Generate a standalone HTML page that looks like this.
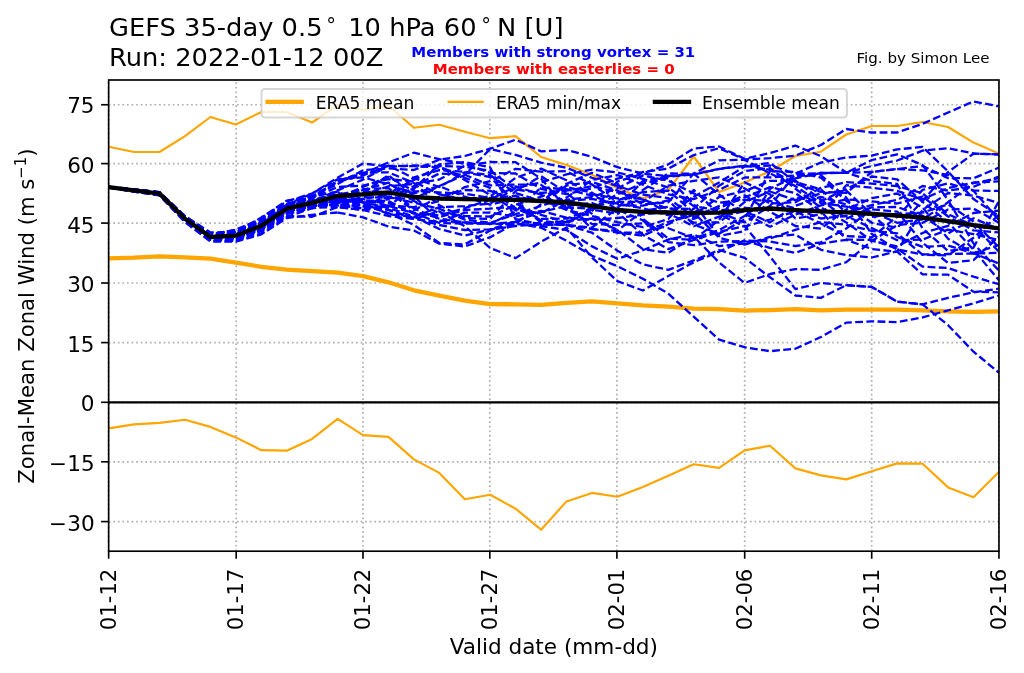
<!DOCTYPE html>
<html lang="en"><head><meta charset="utf-8">
<title>GEFS 35-day 0.5° 10 hPa 60°N [U]</title>
<style>
html,body{margin:0;padding:0;background:#fff;}
body{width:1024px;height:673px;overflow:hidden;}
svg{display:block;font-family:"DejaVu Sans","Liberation Sans",sans-serif;}
text{fill:#000;}
.grid line{stroke:#b0b0b0;stroke-width:1.73;stroke-dasharray:1.73 2.85;fill:none;}
.tick line{stroke:#000;stroke-width:1.65;}
.mem{fill:none;stroke:#0000ff;stroke-width:2.3;stroke-dasharray:7.81 3.38;stroke-linejoin:round;}
.emean{fill:none;stroke:#000;stroke-width:4.3;stroke-linejoin:round;stroke-linecap:butt;}
.era{fill:none;stroke:#ffa500;stroke-width:2.16;stroke-linejoin:round;}
.eram{fill:none;stroke:#ffa500;stroke-width:4.3;stroke-linejoin:round;}
.tl{font-size:21.58px;}
.ttl{font-size:25.75px;}
.lg{font-size:17.12px;}
.an{font-size:15.0px;font-weight:bold;}
.fg{font-size:15.1px;}
</style></head><body>
<svg width="1024" height="673" viewBox="0 0 1024 673">
<rect x="0" y="0" width="1024" height="673" fill="#fff"/>
<clipPath id="ax"><rect x="108.65" y="80.0" width="890.3" height="471.2"/></clipPath>
<g class="grid">
<line x1="108.65" y1="551.2" x2="108.65" y2="80.0"/>
<line x1="236.20" y1="551.2" x2="236.20" y2="80.0"/>
<line x1="363.00" y1="551.2" x2="363.00" y2="80.0"/>
<line x1="489.80" y1="551.2" x2="489.80" y2="80.0"/>
<line x1="616.90" y1="551.2" x2="616.90" y2="80.0"/>
<line x1="744.70" y1="551.2" x2="744.70" y2="80.0"/>
<line x1="871.70" y1="551.2" x2="871.70" y2="80.0"/>
<line x1="998.95" y1="551.2" x2="998.95" y2="80.0"/>
<line x1="108.65" y1="521.60" x2="998.95" y2="521.60"/>
<line x1="108.65" y1="461.80" x2="998.95" y2="461.80"/>
<line x1="108.65" y1="402.30" x2="998.95" y2="402.30"/>
<line x1="108.65" y1="342.60" x2="998.95" y2="342.60"/>
<line x1="108.65" y1="283.00" x2="998.95" y2="283.00"/>
<line x1="108.65" y1="223.10" x2="998.95" y2="223.10"/>
<line x1="108.65" y1="163.60" x2="998.95" y2="163.60"/>
<line x1="108.65" y1="104.75" x2="998.95" y2="104.75"/>
</g>
<g clip-path="url(#ax)">
<polyline class="eram" points="108.7,258.3 134.1,257.6 159.5,256.3 185.0,257.3 210.4,258.6 235.8,262.6 261.3,266.8 286.7,269.6 312.1,271.1 337.6,272.6 363.0,276.1 388.5,282.3 413.9,290.3 439.3,295.6 464.8,300.6 490.2,304.1 515.6,304.3 541.1,304.8 566.5,302.8 592.0,301.3 617.4,303.3 642.8,305.3 668.3,306.6 693.7,308.6 719.1,309.1 744.6,310.6 770.0,310.1 795.4,309.1 820.9,310.3 846.3,309.6 871.8,309.6 897.2,309.6 922.6,310.3 948.1,311.3 973.5,311.8 998.9,311.3"/>
<polyline class="era" points="108.7,146.7 134.1,152.0 159.5,152.0 185.0,136.2 210.4,117.0 235.8,124.5 261.3,112.0 286.7,112.0 312.1,122.5 337.6,105.0 363.0,110.0 388.5,105.8 413.9,127.8 439.3,124.8 464.8,131.7 490.2,138.2 515.6,136.1 541.1,157.0 566.5,165.0 592.0,174.7 617.4,188.0 642.8,198.4 668.3,190.0 693.7,156.5 719.1,192.0 744.6,182.5 770.0,171.2 795.4,156.0 820.9,151.7 846.3,134.5 871.8,126.0 897.2,126.0 922.6,122.0 948.1,127.0 973.5,142.6 998.9,153.6"/>
<polyline class="era" points="108.7,428.4 134.1,424.4 159.5,422.9 185.0,419.7 210.4,426.9 235.8,437.4 261.3,450.2 286.7,450.7 312.1,438.9 337.6,418.9 363.0,435.2 388.5,436.9 413.9,459.4 439.3,472.9 464.8,499.2 490.2,494.7 515.6,508.7 541.1,529.7 566.5,501.4 592.0,492.9 617.4,496.7 642.8,486.9 668.3,475.7 693.7,464.2 719.1,467.9 744.6,450.4 770.0,445.7 795.4,468.4 820.9,475.4 846.3,479.4 871.8,471.2 897.2,463.4 922.6,463.7 948.1,487.4 973.5,497.2 998.9,471.9"/>
<polyline class="mem" points="108.7,187.0 134.1,189.5 159.5,192.4 185.0,216.7 210.4,234.8 235.8,232.4 261.3,217.5 286.7,200.7 312.1,196.1 337.6,184.1"/>
<polyline class="mem" points="337.6,184.1 363.0,170.2 388.5,168.4 413.9,170.0 439.3,159.7 464.8,156.0 490.2,148.7 515.6,139.7 541.1,151.4 566.5,149.8 592.0,156.9 617.4,167.2 642.8,173.5 668.3,164.4 693.7,148.5 719.1,146.5 744.6,158.9 770.0,153.1 795.4,145.6 820.9,156.2 846.3,172.5 871.8,181.0 897.2,184.0 922.6,228.5 948.1,251.0 973.5,247.6 998.9,201.1" stroke-dashoffset="1.28"/>
<polyline class="mem" points="108.7,186.9 134.1,189.4 159.5,192.2 185.0,216.2 210.4,234.8 235.8,229.7 261.3,219.0 286.7,204.5 312.1,198.2 337.6,180.7"/>
<polyline class="mem" points="337.6,180.7 363.0,173.7 388.5,162.4 413.9,152.7 439.3,159.2 464.8,163.7 490.2,173.0 515.6,173.5 541.1,188.9 566.5,194.1 592.0,188.3 617.4,178.7 642.8,172.0 668.3,168.7 693.7,155.1 719.1,148.2 744.6,159.5 770.0,158.2 795.4,155.6 820.9,145.0 846.3,129.0 871.8,132.5 897.2,132.5 922.6,123.8 948.1,112.5 973.5,101.4 998.9,106.4" stroke-dashoffset="9.72"/>
<polyline class="mem" points="108.7,187.2 134.1,190.2 159.5,193.3 185.0,218.3 210.4,236.5 235.8,234.9 261.3,223.2 286.7,206.8 312.1,205.4 337.6,197.9 363.0,186.9 388.5,176.8 413.9,191.1 439.3,192.5 464.8,193.7 490.2,198.0 515.6,195.9 541.1,202.1 566.5,201.1 592.0,198.9 617.4,203.6 642.8,208.3 668.3,215.2 693.7,196.8 719.1,182.4 744.6,166.6 770.0,165.5 795.4,173.7 820.9,162.5 846.3,157.5 871.8,155.6 897.2,149.4 922.6,146.9 948.1,171.5 973.5,199.0 998.9,216.0"/>
<polyline class="mem" points="108.7,187.0 134.1,189.6 159.5,192.5 185.0,216.9 210.4,234.3 235.8,231.4 261.3,221.6 286.7,204.8 312.1,202.5 337.6,199.1 363.0,201.5 388.5,202.8 413.9,212.6 439.3,215.5 464.8,208.1 490.2,199.6 515.6,186.4 541.1,194.7 566.5,207.4 592.0,208.6 617.4,194.3 642.8,183.3 668.3,178.2 693.7,203.9 719.1,236.0 744.6,231.2 770.0,188.8 795.4,176.4 820.9,173.4 846.3,172.7 871.8,166.0 897.2,160.5 922.6,150.6 948.1,148.3 973.5,153.5 998.9,154.5"/>
<polyline class="mem" points="108.7,187.1 134.1,189.9 159.5,192.9 185.0,217.5 210.4,235.8 235.8,232.3 261.3,223.7 286.7,205.5 312.1,198.1 337.6,187.0 363.0,185.6 388.5,179.1 413.9,181.6 439.3,194.3 464.8,199.5 490.2,196.4 515.6,177.9 541.1,168.6 566.5,180.3 592.0,194.2 617.4,198.3 642.8,198.4 668.3,213.3 693.7,226.3 719.1,216.6 744.6,211.3 770.0,222.4 795.4,205.8 820.9,196.8 846.3,204.6 871.8,222.8 897.2,227.8 922.6,201.0 948.1,172.0 973.5,153.7 998.9,154.3"/>
<polyline class="mem" points="108.7,187.5 134.1,191.6 159.5,195.3 185.0,221.8 210.4,240.9 235.8,240.9 261.3,233.5 286.7,217.0 312.1,208.1 337.6,199.7 363.0,194.5 388.5,186.4 413.9,183.9 439.3,179.5 464.8,165.8 490.2,162.0 515.6,162.2 541.1,178.6 566.5,208.7 592.0,224.0 617.4,225.0 642.8,223.4 668.3,228.2 693.7,238.3 719.1,230.1 744.6,215.9 770.0,197.6 795.4,178.3 820.9,173.0 846.3,172.7 871.8,160.0 897.2,154.4 922.6,165.0 948.1,200.0 973.5,243.5 998.9,270.7"/>
<polyline class="mem" points="108.7,187.2 134.1,190.4 159.5,193.6 185.0,218.9 210.4,238.0 235.8,235.6 261.3,225.0 286.7,210.2 312.1,206.0 337.6,202.4 363.0,197.0 388.5,197.9 413.9,198.9 439.3,186.0 464.8,175.0 490.2,148.9 515.6,154.9 541.1,162.7 566.5,167.7 592.0,177.8 617.4,185.9 642.8,194.5 668.3,198.1 693.7,217.1 719.1,206.0 744.6,195.3 770.0,211.7 795.4,226.0 820.9,228.6 846.3,209.5 871.8,198.2 897.2,193.5 922.6,207.5 948.1,238.8 973.5,253.1 998.9,245.1"/>
<polyline class="mem" points="108.7,187.5 134.1,191.7 159.5,195.4 185.0,222.0 210.4,241.6 235.8,241.7 261.3,234.4 286.7,218.1 312.1,214.8 337.6,212.5"/>
<polyline class="mem" points="337.6,212.5 363.0,217.3 388.5,226.6 413.9,230.5 439.3,243.7 464.8,246.5 490.2,237.2 515.6,223.2 541.1,227.7 566.5,240.7 592.0,255.7 617.4,266.2 642.8,278.7 668.3,293.6 693.7,316.7 719.1,339.7 744.6,347.2 770.0,351.2 795.4,348.7 820.9,337.0 846.3,322.7 871.8,321.3 897.2,322.1 922.6,317.4 948.1,310.3 973.5,303.3 998.9,295.5" stroke-dashoffset="10.99"/>
<polyline class="mem" points="108.7,187.4 134.1,191.0 159.5,194.5 185.0,220.4 210.4,239.0 235.8,239.0 261.3,230.2 286.7,214.2 312.1,207.7 337.6,207.0"/>
<polyline class="mem" points="337.6,207.0 363.0,210.0 388.5,216.0 413.9,219.0 439.3,211.4 464.8,226.3 490.2,248.0 515.6,258.1 541.1,241.8 566.5,227.5 592.0,257.5 617.4,281.1 642.8,290.5 668.3,276.0 693.7,262.3 719.1,251.6 744.6,240.4 770.0,241.6 795.4,246.0 820.9,242.3 846.3,228.5 871.8,209.4 897.2,211.6 922.6,242.7 948.1,263.0 973.5,260.1 998.9,236.4" stroke-dashoffset="9.13"/>
<polyline class="mem" points="108.7,187.3 134.1,190.9 159.5,194.3 185.0,220.0 210.4,239.5 235.8,236.1 261.3,228.5 286.7,212.4 312.1,208.4 337.6,203.0 363.0,205.0 388.5,213.0 413.9,225.0 439.3,243.0 464.8,244.4 490.2,230.5 515.6,224.0 541.1,226.0 566.5,230.0 592.0,246.4 617.4,258.8 642.8,250.3 668.3,239.5 693.7,234.5 719.1,246.1 744.6,243.5 770.0,238.5 795.4,229.8 820.9,222.0 846.3,224.8 871.8,230.9 897.2,233.3 922.6,254.8 948.1,255.4 973.5,237.7 998.9,214.7"/>
<polyline class="mem" points="108.7,187.3 134.1,190.7 159.5,194.1 185.0,219.6 210.4,238.2 235.8,238.0 261.3,229.2 286.7,211.9 312.1,205.7 337.6,201.0"/>
<polyline class="mem" points="337.6,201.0 363.0,202.0 388.5,208.0 413.9,216.5 439.3,229.0 464.8,235.6 490.2,229.5 515.6,226.0 541.1,224.4 566.5,225.0 592.0,232.7 617.4,250.7 642.8,264.4 668.3,269.8 693.7,260.4 719.1,250.0 744.6,257.9 770.0,277.3 795.4,295.5 820.9,297.9 846.3,285.2 871.8,286.9 897.2,301.6 922.6,304.4 948.1,325.2 973.5,351.7 998.9,372.7" stroke-dashoffset="0.47"/>
<polyline class="mem" points="108.7,187.3 134.1,190.6 159.5,193.9 185.0,219.3 210.4,237.4 235.8,236.9 261.3,226.8 286.7,211.6 312.1,206.6 337.6,201.4"/>
<polyline class="mem" points="337.6,201.4 363.0,199.0 388.5,206.0 413.9,213.0 439.3,223.0 464.8,223.7 490.2,223.7 515.6,222.0 541.1,223.4 566.5,221.0 592.0,218.5 617.4,229.8 642.8,249.1 668.3,252.9 693.7,236.5 719.1,262.5 744.6,282.9 770.0,274.0 795.4,269.1 820.9,269.8 846.3,262.2 871.8,241.0 897.2,225.1 922.6,222.8 948.1,209.5 973.5,208.6 998.9,222.7" stroke-dashoffset="2.23"/>
<polyline class="mem" points="108.7,187.3 134.1,190.8 159.5,194.1 185.0,219.7 210.4,237.8 235.8,238.2 261.3,229.7 286.7,209.8 312.1,200.8 337.6,192.1"/>
<polyline class="mem" points="337.6,192.1 363.0,203.0 388.5,210.0 413.9,218.0 439.3,225.0 464.8,230.0 490.2,229.4 515.6,221.0 541.1,212.1 566.5,205.8 592.0,203.0 617.4,212.4 642.8,234.8 668.3,249.1 693.7,240.0 719.1,232.0 744.6,226.0 770.0,256.5 795.4,289.1 820.9,282.9 846.3,285.2 871.8,286.9 897.2,301.6 922.6,304.4 948.1,297.8 973.5,292.4 998.9,288.6" stroke-dashoffset="4.91"/>
<polyline class="mem" points="108.7,187.4 134.1,191.1 159.5,194.6 185.0,220.6 210.4,238.9 235.8,239.8 261.3,229.2 286.7,213.4 312.1,207.0 337.6,198.6 363.0,190.0 388.5,182.6 413.9,201.0 439.3,213.3 464.8,216.0 490.2,216.6 515.6,204.8 541.1,196.6 566.5,187.2 592.0,192.6 617.4,209.8 642.8,220.3 668.3,242.1 693.7,245.2 719.1,241.7 744.6,241.0 770.0,247.9 795.4,252.9 820.9,243.5 846.3,239.8 871.8,249.0 897.2,251.7 922.6,274.4 948.1,274.7 973.5,291.7 998.9,292.3"/>
<polyline class="mem" points="108.7,187.3 134.1,190.6 159.5,193.9 185.0,219.4 210.4,237.8 235.8,236.1 261.3,226.8 286.7,209.4 312.1,204.6 337.6,200.9 363.0,205.6 388.5,209.9 413.9,219.0 439.3,222.0 464.8,212.7 490.2,212.7 515.6,216.4 541.1,210.9 566.5,217.7 592.0,219.7 617.4,218.0 642.8,214.6 668.3,211.2 693.7,218.9 719.1,208.1 744.6,197.4 770.0,187.1 795.4,193.1 820.9,211.2 846.3,239.6 871.8,240.0 897.2,248.6 922.6,266.6 948.1,268.0 973.5,276.7 998.9,284.2"/>
<polyline class="mem" points="108.7,187.0 134.1,189.8 159.5,192.7 185.0,217.3 210.4,234.8 235.8,232.6 261.3,222.5 286.7,204.2 312.1,196.7 337.6,191.7 363.0,202.8 388.5,214.2 413.9,217.0 439.3,207.1 464.8,206.1 490.2,203.5 515.6,188.0 541.1,182.4 566.5,174.4 592.0,169.6 617.4,172.4 642.8,178.9 668.3,187.6 693.7,206.1 719.1,210.4 744.6,208.0 770.0,209.1 795.4,197.7 820.9,201.3 846.3,189.0 871.8,176.5 897.2,179.3 922.6,201.8 948.1,222.3 973.5,249.7 998.9,280.2"/>
<polyline class="mem" points="108.7,187.4 134.1,191.2 159.5,194.7 185.0,220.7 210.4,240.5 235.8,239.1 261.3,229.4 286.7,213.4 312.1,205.7 337.6,204.9 363.0,206.3 388.5,196.6 413.9,202.7 439.3,208.7 464.8,219.7 490.2,222.8 515.6,214.2 541.1,206.0 566.5,197.6 592.0,180.0 617.4,175.0 642.8,184.7 668.3,194.4 693.7,199.1 719.1,189.9 744.6,177.5 770.0,177.4 795.4,175.6 820.9,175.1 846.3,197.6 871.8,233.9 897.2,249.5 922.6,254.4 948.1,254.0 973.5,253.6 998.9,252.8"/>
<polyline class="mem" points="108.7,187.2 134.1,190.5 159.5,193.7 185.0,219.0 210.4,236.0 235.8,236.1 261.3,227.2 286.7,209.3 312.1,200.4 337.6,194.7 363.0,191.7 388.5,192.1 413.9,210.3 439.3,196.7 464.8,190.0 490.2,190.8 515.6,201.3 541.1,222.5 566.5,225.0 592.0,229.0 617.4,230.7 642.8,211.0 668.3,206.7 693.7,222.7 719.1,222.4 744.6,202.1 770.0,191.5 795.4,200.1 820.9,193.5 846.3,190.6 871.8,214.5 897.2,237.0 922.6,246.9 948.1,245.5 973.5,253.3 998.9,263.5"/>
<polyline class="mem" points="108.7,187.2 134.1,190.4 159.5,193.6 185.0,218.7 210.4,238.3 235.8,235.8 261.3,224.9 286.7,208.7 312.1,202.8 337.6,199.4"/>
<polyline class="mem" points="337.6,199.4 363.0,200.6 388.5,201.0 413.9,213.7 439.3,217.1 464.8,210.0 490.2,208.6 515.6,206.6 541.1,214.9 566.5,222.4 592.0,211.1 617.4,181.5 642.8,173.7 668.3,176.0 693.7,174.3 719.1,168.8 744.6,165.7 770.0,169.8 795.4,183.8 820.9,191.9 846.3,192.9 871.8,172.0 897.2,169.0 922.6,166.0 948.1,178.1 973.5,178.3 998.9,167.6" stroke-dashoffset="5.03"/>
<polyline class="mem" points="108.7,187.1 134.1,190.0 159.5,193.0 185.0,217.8 210.4,234.5 235.8,234.4 261.3,222.6 286.7,204.7 312.1,201.0 337.6,203.0"/>
<polyline class="mem" points="337.6,203.0 363.0,199.1 388.5,194.6 413.9,188.9 439.3,164.3 464.8,162.0 490.2,167.4 515.6,219.2 541.1,224.5 566.5,225.0 592.0,227.6 617.4,208.2 642.8,181.0 668.3,176.6 693.7,174.5 719.1,169.0 744.6,165.9 770.0,163.0 795.4,182.0 820.9,189.3 846.3,212.8 871.8,205.0 897.2,200.0 922.6,186.0 948.1,190.7 973.5,186.7 998.9,176.5" stroke-dashoffset="4.36"/>
<polyline class="mem" points="108.7,187.1 134.1,190.1 159.5,193.1 185.0,218.0 210.4,235.3 235.8,236.7 261.3,224.7 286.7,205.3 312.1,200.6 337.6,194.2 363.0,193.2 388.5,175.2 413.9,196.0 439.3,220.7 464.8,222.5 490.2,223.8 515.6,224.0 541.1,204.2 566.5,185.5 592.0,181.9 617.4,190.5 642.8,204.3 668.3,202.3 693.7,173.5 719.1,160.3 744.6,159.8 770.0,173.3 795.4,186.1 820.9,203.1 846.3,206.7 871.8,211.8 897.2,222.8 922.6,219.4 948.1,202.2 973.5,183.0 998.9,178.2"/>
<polyline class="mem" points="108.7,187.2 134.1,190.3 159.5,193.4 185.0,218.5 210.4,236.3 235.8,236.2 261.3,226.0 286.7,204.7 312.1,193.5 337.6,179.3 363.0,177.3 388.5,184.3 413.9,193.4 439.3,186.1 464.8,196.7 490.2,204.7 515.6,198.2 541.1,199.8 566.5,210.0 592.0,216.0 617.4,222.2 642.8,227.1 668.3,219.0 693.7,189.9 719.1,214.2 744.6,226.5 770.0,219.5 795.4,211.3 820.9,223.5 846.3,236.1 871.8,237.4 897.2,216.6 922.6,189.9 948.1,183.4 973.5,190.6 998.9,190.9"/>
<polyline class="mem" points="108.7,187.0 134.1,189.5 159.5,192.3 185.0,216.4 210.4,234.0 235.8,230.1 261.3,222.0 286.7,205.0 312.1,196.2 337.6,182.0 363.0,175.3 388.5,165.7 413.9,178.2 439.3,187.0 464.8,172.3 490.2,177.1 515.6,202.6 541.1,220.7 566.5,224.0 592.0,207.3 617.4,200.4 642.8,192.1 668.3,190.6 693.7,212.6 719.1,237.7 744.6,244.6 770.0,236.8 795.4,234.5 820.9,249.8 846.3,255.0 871.8,257.5 897.2,251.4 922.6,209.8 948.1,193.0 973.5,195.6 998.9,203.0"/>
<polyline class="mem" points="108.7,186.9 134.1,189.4 159.5,192.1 185.0,216.2 210.4,232.4 235.8,232.2 261.3,218.2 286.7,201.4 312.1,193.5 337.6,177.7 363.0,163.5 388.5,166.7 413.9,165.5 439.3,166.0 464.8,166.8 490.2,170.8 515.6,189.5 541.1,193.0 566.5,190.7 592.0,186.2 617.4,192.1 642.8,199.6 668.3,208.7 693.7,208.8 719.1,185.7 744.6,171.0 770.0,168.1 795.4,188.8 820.9,207.5 846.3,222.4 871.8,240.8 897.2,246.4 922.6,232.9 948.1,225.8 973.5,213.0 998.9,210.6"/>
<polyline class="mem" points="108.7,187.0 134.1,189.7 159.5,192.6 185.0,217.0 210.4,234.4 235.8,231.1 261.3,220.9 286.7,203.8 312.1,197.6 337.6,181.2 363.0,172.6 388.5,172.3 413.9,183.0 439.3,205.4 464.8,218.0 490.2,219.0 515.6,191.0 541.1,176.2 566.5,192.8 592.0,213.8 617.4,232.5 642.8,235.7 668.3,224.3 693.7,210.6 719.1,212.4 744.6,222.4 770.0,206.0 795.4,174.4 820.9,173.0 846.3,172.7 871.8,172.0 897.2,169.0 922.6,170.4 948.1,175.0 973.5,190.7 998.9,220.0"/>
<polyline class="mem" points="108.7,187.1 134.1,189.9 159.5,192.8 185.0,217.5 210.4,234.9 235.8,233.0 261.3,221.7 286.7,204.7 312.1,200.3 337.6,202.6 363.0,208.8 388.5,193.5 413.9,180.0 439.3,166.5 464.8,177.7 490.2,188.0 515.6,208.4 541.1,218.9 566.5,218.6 592.0,209.7 617.4,213.7 642.8,190.0 668.3,173.5 693.7,173.6 719.1,194.5 744.6,213.6 770.0,226.8 795.4,214.6 820.9,205.4 846.3,199.3 871.8,201.4 897.2,203.5 922.6,196.5 948.1,216.5 973.5,230.4 998.9,232.4"/>
<polyline class="mem" points="108.7,187.3 134.1,191.0 159.5,194.4 185.0,220.3 210.4,239.5 235.8,239.0 261.3,228.9 286.7,210.6 312.1,201.8 337.6,190.4 363.0,179.6 388.5,165.8 413.9,166.2 439.3,167.3 464.8,180.0 490.2,195.0 515.6,210.3 541.1,213.1 566.5,199.7 592.0,197.1 617.4,188.3 642.8,175.5 668.3,180.8 693.7,193.4 719.1,202.8 744.6,199.8 770.0,200.8 795.4,208.5 820.9,218.5 846.3,216.0 871.8,228.1 897.2,240.2 922.6,239.6 948.1,229.6 973.5,234.1 998.9,239.9"/>
<polyline class="mem" points="108.7,187.2 134.1,190.5 159.5,193.8 185.0,219.1 210.4,237.1 235.8,235.4 261.3,226.6 286.7,209.7 312.1,203.4 337.6,195.0 363.0,189.1 388.5,188.1 413.9,208.7 439.3,218.7 464.8,222.5 490.2,223.8 515.6,211.6 541.1,187.4 566.5,189.2 592.0,195.6 617.4,205.2 642.8,205.7 668.3,200.5 693.7,224.6 719.1,233.8 744.6,219.3 770.0,171.1 795.4,172.0 820.9,177.6 846.3,201.0 871.8,216.8 897.2,214.1 922.6,212.6 948.1,204.3 973.5,221.5 998.9,247.4"/>
<polyline class="mem" points="108.7,187.4 134.1,191.3 159.5,194.9 185.0,221.2 210.4,239.6 235.8,241.1 261.3,231.2 286.7,216.1 312.1,216.8 337.6,207.0 363.0,210.0 388.5,206.7 413.9,186.0 439.3,173.5 464.8,174.8 490.2,185.4 515.6,184.5 541.1,184.8 566.5,203.6 592.0,229.0 617.4,232.5 642.8,232.8 668.3,221.9 693.7,215.0 719.1,197.0 744.6,191.2 770.0,180.9 795.4,180.6 820.9,199.6 846.3,218.7 871.8,207.3 897.2,207.0 922.6,215.9 948.1,233.4 973.5,218.3 998.9,229.2"/>
<polyline class="mem" points="108.7,187.1 134.1,190.1 159.5,193.2 185.0,218.1 210.4,236.6 235.8,234.0 261.3,223.2 286.7,207.3 312.1,205.2 337.6,205.3 363.0,208.2 388.5,205.5 413.9,207.2 439.3,201.1 464.8,187.1 490.2,181.2 515.6,168.8 541.1,171.7 566.5,171.2 592.0,184.5 617.4,201.9 642.8,202.0 668.3,185.7 693.7,180.8 719.1,177.4 744.6,188.4 770.0,203.6 795.4,202.2 820.9,187.8 846.3,182.1 871.8,183.6 897.2,186.2 922.6,193.3 948.1,214.2 973.5,225.7 998.9,251.7"/>
<polyline class="mem" points="108.7,187.3 134.1,190.8 159.5,194.2 185.0,219.8 210.4,237.5 235.8,236.9 261.3,228.4 286.7,210.3 312.1,204.0 337.6,200.2 363.0,203.7 388.5,199.2 413.9,177.4 439.3,170.2 464.8,171.8 490.2,175.1 515.6,193.1 541.1,201.0 566.5,183.8 592.0,172.8 617.4,183.3 642.8,218.7 668.3,238.5 693.7,239.8 719.1,219.9 744.6,182.3 770.0,194.3 795.4,218.3 820.9,214.4 846.3,185.2 871.8,187.7 897.2,190.9 922.6,199.3 948.1,188.0 973.5,182.6 998.9,181.3"/>
<polyline class="emean" points="108.7,187.2 134.1,190.4 159.5,193.6 185.0,218.8 210.4,237.0 235.8,235.7 261.3,225.7 286.7,208.7 312.1,202.9 337.6,196.0 363.0,194.3 388.5,192.5 413.9,197.0 439.3,198.5 464.8,199.2 490.2,199.7 515.6,199.9 541.1,201.0 566.5,202.5 592.0,206.0 617.4,210.0 642.8,211.9 668.3,212.5 693.7,212.9 719.1,212.7 744.6,210.1 770.0,208.5 795.4,210.2 820.9,211.4 846.3,212.4 871.8,213.8 897.2,215.5 922.6,217.6 948.1,221.1 973.5,225.2 998.9,228.4"/>
<line x1="108.65" y1="402.30" x2="998.95" y2="402.30" stroke="#000" stroke-width="2.3"/>
</g>
<g class="tick">
<line x1="108.65" y1="551.2" x2="108.65" y2="558.75"/>
<line x1="236.20" y1="551.2" x2="236.20" y2="558.75"/>
<line x1="363.00" y1="551.2" x2="363.00" y2="558.75"/>
<line x1="489.80" y1="551.2" x2="489.80" y2="558.75"/>
<line x1="616.90" y1="551.2" x2="616.90" y2="558.75"/>
<line x1="744.70" y1="551.2" x2="744.70" y2="558.75"/>
<line x1="871.70" y1="551.2" x2="871.70" y2="558.75"/>
<line x1="998.95" y1="551.2" x2="998.95" y2="558.75"/>
<line x1="108.65" y1="521.60" x2="101.10" y2="521.60"/>
<line x1="108.65" y1="461.80" x2="101.10" y2="461.80"/>
<line x1="108.65" y1="402.30" x2="101.10" y2="402.30"/>
<line x1="108.65" y1="342.60" x2="101.10" y2="342.60"/>
<line x1="108.65" y1="283.00" x2="101.10" y2="283.00"/>
<line x1="108.65" y1="223.10" x2="101.10" y2="223.10"/>
<line x1="108.65" y1="163.60" x2="101.10" y2="163.60"/>
<line x1="108.65" y1="104.75" x2="101.10" y2="104.75"/>
</g>
<rect x="108.65" y="80.0" width="890.3" height="471.2" fill="none" stroke="#000" stroke-width="1.65"/>
<text class="tl" text-anchor="end" transform="translate(115.75,568.65) scale(1,0.982) rotate(-90)">01-12</text>
<text class="tl" text-anchor="end" transform="translate(242.94,568.65) scale(1,0.982) rotate(-90)">01-17</text>
<text class="tl" text-anchor="end" transform="translate(370.12,568.65) scale(1,0.982) rotate(-90)">01-22</text>
<text class="tl" text-anchor="end" transform="translate(497.31,568.65) scale(1,0.982) rotate(-90)">01-27</text>
<text class="tl" text-anchor="end" transform="translate(624.49,568.65) scale(1,0.982) rotate(-90)">02-01</text>
<text class="tl" text-anchor="end" transform="translate(751.68,568.65) scale(1,0.982) rotate(-90)">02-06</text>
<text class="tl" text-anchor="end" transform="translate(878.86,568.65) scale(1,0.982) rotate(-90)">02-11</text>
<text class="tl" text-anchor="end" transform="translate(1006.05,568.65) scale(1,0.982) rotate(-90)">02-16</text>
<text class="tl" text-anchor="end" transform="translate(94.60,530.56) scale(1,0.982)">−30</text>
<text class="tl" text-anchor="end" transform="translate(94.60,470.95) scale(1,0.982)">−15</text>
<text class="tl" text-anchor="end" transform="translate(94.60,411.35) scale(1,0.982)">0</text>
<text class="tl" text-anchor="end" transform="translate(94.60,351.75) scale(1,0.982)">15</text>
<text class="tl" text-anchor="end" transform="translate(94.60,292.15) scale(1,0.982)">30</text>
<text class="tl" text-anchor="end" transform="translate(94.60,232.54) scale(1,0.982)">45</text>
<text class="tl" text-anchor="end" transform="translate(94.60,172.94) scale(1,0.982)">60</text>
<text class="tl" text-anchor="end" transform="translate(94.60,113.34) scale(1,0.982)">75</text>
<text class="tl" text-anchor="middle" transform="translate(553.80,653.80) scale(1,0.982)">Valid date (mm-dd)</text>
<text class="tl" text-anchor="middle" transform="translate(34.10,316.10) scale(1,0.982) rotate(-90)">Zonal-Mean Zonal Wind (m s<tspan font-size="15.1px" dy="-8.2">−1</tspan><tspan dy="8.2">)</tspan></text>
<text class="ttl" transform="translate(109.00,36.30) scale(1,0.982)"><tspan x="0.00" y="0.00">GEFS 35-day 0.5</tspan><tspan x="217.15" y="-4.80" font-size="19.5px">°</tspan><tspan x="239.25" y="0.00">10 hPa 60</tspan><tspan x="372.15" y="-4.80" font-size="19.5px">°</tspan><tspan x="388.10" y="0.00">N [U]</tspan></text>
<text class="ttl" transform="translate(109.00,66.30) scale(1,0.982)">Run: 2022-01-12 00Z</text>
<text class="an" text-anchor="middle" style="fill:#0000ff" transform="translate(553.30,57.40) scale(1,0.982)">Members with strong vortex = 31</text>
<text class="an" text-anchor="middle" style="fill:#ff0000" transform="translate(553.70,73.70) scale(1,0.982)">Members with easterlies = 0</text>
<text class="fg" text-anchor="end" transform="translate(989.50,63.00) scale(1,0.982)">Fig. by Simon Lee</text>
<rect x="261.5" y="89.0" width="585.4" height="28.6" rx="3.4" ry="3.4" fill="#fff" fill-opacity="0.8" stroke="#ccc" stroke-opacity="0.8" stroke-width="2.0"/>
<line x1="267.6" y1="101.9" x2="301.7" y2="101.9" stroke="#ffa500" stroke-width="4.3" stroke-linecap="square"/>
<text class="lg" transform="translate(315.70,108.80) scale(1,0.982)">ERA5 mean</text>
<line x1="448.6" y1="101.9" x2="482.7" y2="101.9" stroke="#ffa500" stroke-width="2.16" stroke-linecap="square"/>
<text class="lg" transform="translate(495.90,108.80) scale(1,0.982)">ERA5 min/max</text>
<line x1="654.9" y1="101.9" x2="689.0" y2="101.9" stroke="#000" stroke-width="4.3" stroke-linecap="square"/>
<text class="lg" transform="translate(702.00,108.80) scale(1,0.982)">Ensemble mean</text>
</svg></body></html>
